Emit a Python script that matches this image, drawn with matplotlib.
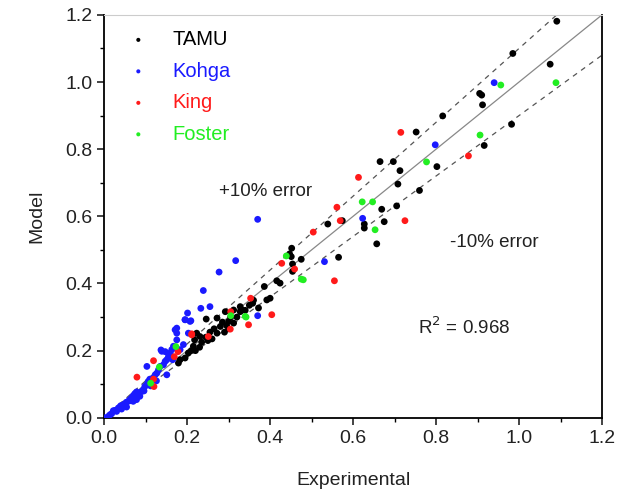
import numpy as np
import matplotlib.pyplot as plt

plt.rcParams["font.family"] = ["Liberation Sans", "DejaVu Sans"]

tamu_x = [1.091, 0.985, 1.075, 0.910, 0.905, 0.912, 0.816, 0.982, 0.916,
          0.752, 0.665, 0.697, 0.713, 0.802, 0.708, 0.760, 0.669, 0.705, 0.574,
          0.627, 0.675, 0.627, 0.657, 0.539, 0.452, 0.475, 0.451, 0.454, 0.565,
          0.454, 0.447, 0.416, 0.424, 0.386, 0.392, 0.400, 0.358, 0.372, 0.312,
          0.332, 0.246, 0.272, 0.292, 0.300, 0.280, 0.312, 0.328, 0.272, 0.231,
          0.328, 0.220, 0.230, 0.235, 0.250, 0.245, 0.260, 0.255, 0.265, 0.285,
          0.295, 0.305, 0.320, 0.340, 0.350, 0.360, 0.300, 0.290, 0.183, 0.195,
          0.203, 0.215, 0.218, 0.223, 0.179, 0.210]
tamu_y = [1.181, 1.085, 1.053, 0.961, 0.966, 0.932, 0.899, 0.874, 0.811,
          0.851, 0.763, 0.763, 0.736, 0.748, 0.696, 0.677, 0.621, 0.631, 0.587,
          0.577, 0.584, 0.565, 0.518, 0.577, 0.505, 0.472, 0.480, 0.458, 0.478,
          0.436, 0.488, 0.408, 0.401, 0.391, 0.351, 0.356, 0.341, 0.327, 0.321,
          0.321, 0.294, 0.297, 0.316, 0.287, 0.272, 0.282, 0.316, 0.252, 0.242,
          0.331, 0.200, 0.210, 0.225, 0.230, 0.240, 0.235, 0.255, 0.265, 0.285,
          0.275, 0.300, 0.300, 0.320, 0.335, 0.350, 0.265, 0.255, 0.173, 0.178,
          0.193, 0.213, 0.232, 0.252, 0.163, 0.200]

kohga_x = [0.940, 0.798, 0.623, 0.370, 0.531, 0.370, 0.317, 0.277, 0.239,
           0.233, 0.255, 0.201, 0.195, 0.209, 0.175, 0.175, 0.203, 0.103, 0.137,
           0.147, 0.165, 0.151,
           0.010, 0.018, 0.026, 0.034, 0.040, 0.046, 0.053, 0.058, 0.062, 0.066,
           0.070, 0.074, 0.078, 0.070, 0.078, 0.086, 0.090, 0.094, 0.098, 0.102,
           0.106, 0.110, 0.118, 0.123, 0.127, 0.131, 0.135, 0.143, 0.147, 0.151,
           0.155, 0.159, 0.163, 0.167, 0.175, 0.171, 0.139, 0.183, 0.191, 0.195,
           0.207, 0.002, 0.014, 0.030, 0.042, 0.054, 0.022, 0.038, 0.050, 0.064,
           0.082, 0.096, 0.112, 0.126]
kohga_y = [0.998, 0.813, 0.594, 0.591, 0.465, 0.304, 0.468, 0.434, 0.379,
           0.326, 0.331, 0.312, 0.292, 0.289, 0.267, 0.252, 0.252, 0.153, 0.202,
           0.197, 0.173, 0.128,
           0.004, 0.012, 0.022, 0.029, 0.036, 0.039, 0.046, 0.049, 0.054, 0.059,
           0.066, 0.072, 0.077, 0.049, 0.054, 0.064, 0.078, 0.083, 0.093, 0.098,
           0.108, 0.115, 0.118, 0.128, 0.133, 0.143, 0.153, 0.158, 0.168, 0.173,
           0.183, 0.193, 0.203, 0.213, 0.232, 0.262, 0.198, 0.203, 0.218, 0.292,
           0.287, 0.000, 0.009, 0.019, 0.026, 0.032, 0.021, 0.032, 0.041, 0.051,
           0.069, 0.080, 0.095, 0.110]

king_x = [0.878, 0.715, 0.613, 0.561, 0.569, 0.725, 0.504, 0.428, 0.459,
          0.555, 0.353, 0.404, 0.305, 0.304, 0.251, 0.211, 0.348, 0.119, 0.079,
          0.178, 0.169, 0.119, 0.120, 0.211]
king_y = [0.780, 0.850, 0.716, 0.627, 0.587, 0.587, 0.553, 0.460, 0.443,
          0.408, 0.356, 0.307, 0.316, 0.264, 0.242, 0.250, 0.277, 0.170, 0.121,
          0.197, 0.182, 0.115, 0.093, 0.247]

foster_x = [1.089, 0.956, 0.906, 0.777, 0.622, 0.647, 0.653, 0.439, 0.475,
            0.480, 0.340, 0.305, 0.342, 0.133, 0.112, 0.173]
foster_y = [0.998, 0.991, 0.842, 0.762, 0.643, 0.643, 0.560, 0.482, 0.413,
            0.411, 0.302, 0.304, 0.300, 0.151, 0.103, 0.212]

r_squared = 0.968

fig = plt.figure(figsize=(6.2, 4.95), dpi=100)
ax = fig.add_axes([0.168, 0.156, 0.803, 0.814])

line_x = np.array([0.0, 1.2])
ax.plot(line_x, line_x, color="#888888", lw=0.9, zorder=1)
ax.plot(line_x, 1.1 * line_x, color="#555555", lw=0.9, ls=(0, (4, 4)), zorder=1)
ax.plot(line_x, 0.9 * line_x, color="#555555", lw=0.9, ls=(0, (4, 4)), zorder=1)

series = [
    ("TAMU", tamu_x, tamu_y, "black"),
    ("Kohga", kohga_x, kohga_y, "#1a1aff"),
    ("King", king_x, king_y, "#ff1a1a"),
    ("Foster", foster_x, foster_y, "#22ee22"),
]
for name, xs, ys, c in series:
    ax.scatter(xs, ys, s=24, color=c, edgecolors="none", label=name, zorder=3)

ax.set_xlim(0, 1.2)
ax.set_ylim(0, 1.2)
ax.set_xticks(np.arange(0, 1.21, 0.2))
ax.set_yticks(np.arange(0, 1.21, 0.2))
ax.set_xticks(np.arange(0.1, 1.2, 0.2), minor=True)
ax.set_yticks(np.arange(0.1, 1.2, 0.2), minor=True)
ax.xaxis.set_major_formatter(plt.FormatStrFormatter("%.1f"))
ax.yaxis.set_major_formatter(plt.FormatStrFormatter("%.1f"))
ax.tick_params(which="major", direction="out", length=5, width=1.2,
               labelsize=14, colors="#222222")
ax.tick_params(which="minor", direction="out", length=3, width=1.0)
for side in ["left", "bottom", "right"]:
    ax.spines[side].set_linewidth(1.3)
ax.spines["top"].set_color("#cccccc")

ax.set_xlabel("Experimental", fontsize=14, labelpad=18, color="#222222")
ax.set_ylabel("Model", fontsize=14, labelpad=14, color="#222222")

ax.text(0.39, 0.673, "+10% error", fontsize=13.5, ha="center", va="center", color="#222222")
ax.text(0.94, 0.521, "-10% error", fontsize=13.5, ha="center", va="center", color="#222222")
ax.text(0.757, 0.271, "R$^2$ = %.3f" % r_squared, fontsize=13.5, ha="left",
        va="center", color="#222222")

leg = ax.legend(loc="upper left", bbox_to_anchor=(0.012, 0.982), frameon=False,
                fontsize=14.5, handletextpad=0.7, labelspacing=0.62, markerscale=0.6,
                borderaxespad=0)
for text, (_, _, _, c) in zip(leg.get_texts(), series):
    text.set_color(c)

fig.savefig("out.png", dpi=100)
